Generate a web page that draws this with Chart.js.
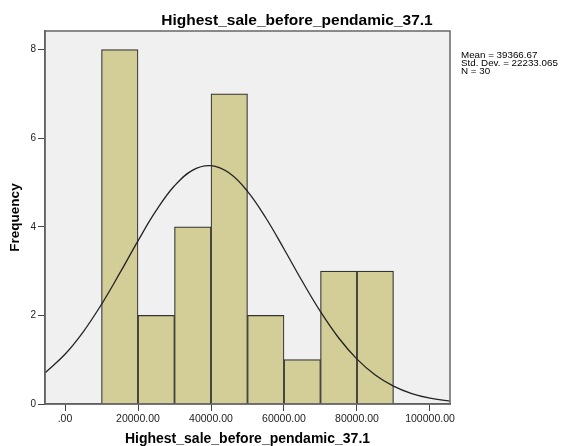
<!DOCTYPE html>
<html>
<head>
<meta charset="utf-8">
<script src="https://cdn.jsdelivr.net/npm/chart.js@4/dist/chart.umd.min.js"></script>
<style>
    body { margin: 0; background: #ffffff; }
    #wrap { width: 561px; height: 446px; }
</style>
</head>
<body>
<div id="wrap"><canvas id="histChart" width="561" height="446"></canvas></div>
<script>
const titleText = 'Highest_sale_before_pendamic_37.1';
const binCenters = [15000, 25000, 35000, 45000, 55000, 65000, 75000, 85000];
const frequency = [8, 2, 4, 7, 2, 1, 3, 3];

// normal curve
const curveX = [-5500, 0, 5000, 10000, 15000, 20000, 25000, 30000, 35000, 40000, 45000, 50000,
    55000, 60000, 65000, 70000, 75000, 80000, 85000, 90000, 95000, 100000, 105500];
const curveY = [0.702, 1.123, 1.630, 2.250, 2.953, 3.684, 4.369, 4.926, 5.280, 5.381, 5.213, 4.801,
    4.204, 3.500, 2.770, 2.084, 1.490, 1.013, 0.655, 0.403, 0.235, 0.131, 0.065];

const xTicks = [0, 20000, 40000, 60000, 80000, 100000];
const yTicks = [0, 2, 4, 6, 8];
const statLines = ['Mean = 39366.67', 'Std. Dev. = 22233.065', 'N = 30'];

const FONT = "'Liberation Sans', Arial, sans-serif";

// plot background + box + title + stats text
const frameBox = {
    id: 'frameBox',
    beforeDraw(chart) {
        const { ctx, chartArea: a } = chart;
        ctx.save();
        ctx.fillStyle = '#f0f0f0';
        ctx.fillRect(a.left, a.top, a.right - a.left, a.bottom - a.top);
        ctx.restore();
    },
    afterDraw(chart) {
        const { ctx, chartArea: a } = chart;
        ctx.save();
        ctx.strokeStyle = '#666666';
        ctx.lineWidth = 1.5;
        ctx.strokeRect(a.left, a.top, a.right - a.left, a.bottom - a.top);

        ctx.fillStyle = '#000000';
        ctx.font = 'bold 15.5px ' + FONT;
        ctx.textAlign = 'center';
        ctx.textBaseline = 'alphabetic';
        ctx.fillText(titleText, 297, 25);

        // stats text is a bit wide and short in the original
        ctx.font = '8.5px ' + FONT;
        ctx.textAlign = 'left';
        statLines.forEach((s, i) => {
            ctx.save();
            ctx.translate(461, 58.3 + i * 7.8);
            ctx.scale(1.15, 1);
            ctx.fillText(s, 0, 0);
            ctx.restore();
        });
        ctx.restore();
    }
};

const ctx = document.getElementById('histChart').getContext('2d');
new Chart(ctx, {
    type: 'bar',
    data: {
        datasets: [{
            type: 'line',
            data: curveX.map((x, i) => ({ x: x, y: curveY[i] })),
            borderColor: '#222222',
            borderWidth: 1.3,
            pointRadius: 0,
            tension: 0.4,
            fill: false,
            order: 0
        }, {
            type: 'bar',
            data: binCenters.map((x, i) => ({ x: x, y: frequency[i] })),
            backgroundColor: '#d3ce97',
            borderColor: '#333333',
            borderWidth: 1.2,
            barPercentage: 1,
            categoryPercentage: 1,
            order: 1
        }]
    },
    options: {
        responsive: false,
        animation: false,
        layout: {
            padding: { left: 0, top: 31, right: 111, bottom: 0 }
        },
        plugins: {
            legend: { display: false },
            tooltip: { enabled: false }
        },
        scales: {
            x: {
                type: 'linear',
                min: -5480,
                max: 105480,
                offset: false,
                afterFit(scale) { scale.height = 42; },
                afterBuildTicks(scale) { scale.ticks = xTicks.map(v => ({ value: v })); },
                grid: {
                    display: true,
                    offset: false,
                    drawOnChartArea: false,
                    drawTicks: true,
                    tickLength: 7,
                    color: '#444444'
                },
                border: { display: true, color: '#555555', width: 1.5 },
                ticks: {
                    padding: 2,
                    color: '#222222',
                    maxRotation: 0,
                    font: { family: FONT, size: 10.5 },
                    callback: v => v === 0 ? '.00' : v.toFixed(2)
                },
                title: {
                    display: true,
                    text: titleText,
                    color: '#000000',
                    padding: 0,
                    font: { family: FONT, size: 14, weight: 'bold', lineHeight: 1 }
                }
            },
            y: {
                min: 0,
                max: 8.42,
                afterFit(scale) { scale.width = 45; },
                afterBuildTicks(scale) { scale.ticks = yTicks.map(v => ({ value: v })); },
                grid: {
                    display: true,
                    drawOnChartArea: false,
                    drawTicks: true,
                    tickLength: 7,
                    color: '#444444'
                },
                border: { display: true, color: '#555555', width: 1.5 },
                ticks: {
                    padding: 2,
                    color: '#222222',
                    font: { family: FONT, size: 10 }
                },
                title: {
                    display: true,
                    text: 'Frequency',
                    color: '#000000',
                    padding: { top: 9, bottom: 0 },
                    font: { family: FONT, size: 13.5, weight: 'bold', lineHeight: 1 }
                }
            }
        }
    },
    plugins: [frameBox]
});
</script>
</body>
</html>
